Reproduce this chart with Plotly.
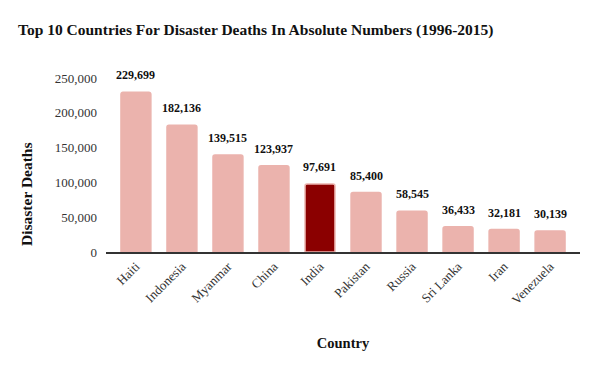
import plotly.graph_objects as go

countries = ["Haiti", "Indonesia", "Myanmar", "China", "India", "Pakistan", "Russia", "Sri Lanka", "Iran", "Venezuela"]
deaths = [229699, 182136, 139515, 123937, 97691, 85400, 58545, 36433, 32181, 30139]
highlight = "India"

base_color = "#ebb3ad"
hi_color = "#8b0000"
colors = [hi_color if c == highlight else base_color for c in countries]
line_colors = [base_color for c in countries]

font_family = "Liberation Serif, Times New Roman, serif"

fig = go.Figure()
fig.add_trace(go.Bar(
    x=countries, y=deaths,
    marker=dict(color=colors, line=dict(color=line_colors, width=1.5), cornerradius=2),
    hoverinfo="x+y",
))

for c, v in zip(countries, deaths):
    fig.add_annotation(x=c, y=v, text=f"<b>{v:,}</b>", showarrow=False,
                       yanchor="bottom", yshift=8,
                       font=dict(family=font_family, size=12, color="#111"))

# y-axis title placed as in the reference (lower than the plot centre)
fig.add_annotation(xref="paper", yref="paper", x=-0.169, y=0.333,
                   text="<b>Disaster Deaths</b>", textangle=-90, showarrow=False,
                   xanchor="center", yanchor="middle",
                   font=dict(family=font_family, size=15.5, color="#111"))

fig.update_layout(
    width=589, height=361,
    margin=dict(l=98, r=17, t=70, b=117),
    paper_bgcolor="white", plot_bgcolor="white",
    bargap=0.35,
    showlegend=False,
    title=dict(text="<b>Top 10 Countries For Disaster Deaths In Absolute Numbers (1996-2015)</b>",
               x=0.017, xanchor="left", y=0.94, yanchor="middle",
               font=dict(family=font_family, size=15.5, color="#111")),
    xaxis=dict(
        range=[-0.65, 9.65], automargin=False,
        showline=True, linecolor="#333", linewidth=1.5,
        ticks="", tickangle=-45,
        tickfont=dict(family=font_family, size=13, color="#333"),
        title=dict(text="<b>Country</b>", font=dict(family=font_family, size=14.5, color="#111"), standoff=32),
        showgrid=False,
    ),
    yaxis=dict(
        range=[0, 250000], automargin=False,
        tickvals=[0, 50000, 100000, 150000, 200000, 250000],
        tickformat=",d",
        showgrid=False, zeroline=False, showline=False,
        ticks="", ticklabelstandoff=8,
        tickfont=dict(family=font_family, size=13, color="#333"),
    ),
)

fig.write_html("out.html")
